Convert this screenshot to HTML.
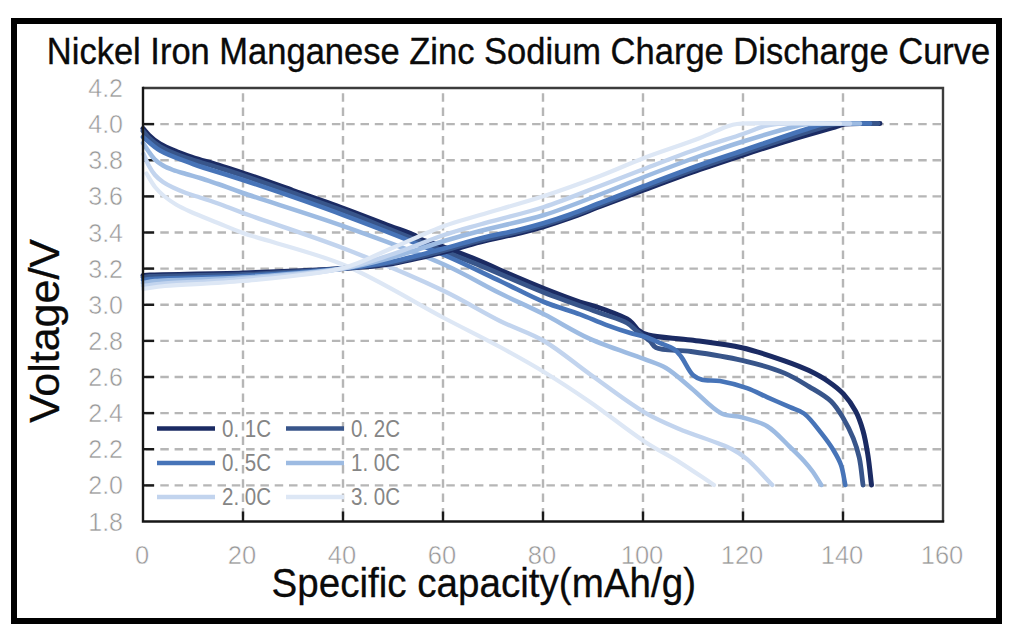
<!DOCTYPE html>
<html><head><meta charset="utf-8"><style>
html,body{margin:0;padding:0;background:#fff;width:1024px;height:632px;overflow:hidden}
svg{position:absolute;left:0;top:0;font-family:"Liberation Sans",sans-serif}
.frame{position:absolute;left:11px;top:18px;width:979px;height:594px;border:6px solid #000}
</style></head><body>
<div class="frame"></div>
<svg width="1024" height="632" viewBox="0 0 1024 632">
<g stroke="#b6b6b6" stroke-width="2.4" stroke-dasharray="8.5 5.8" stroke-dashoffset="9.1"><line x1="243" y1="88.0" x2="243" y2="521.5"/><line x1="343" y1="88.0" x2="343" y2="521.5"/><line x1="443" y1="88.0" x2="443" y2="521.5"/><line x1="543" y1="88.0" x2="543" y2="521.5"/><line x1="643" y1="88.0" x2="643" y2="521.5"/><line x1="743" y1="88.0" x2="743" y2="521.5"/><line x1="843" y1="88.0" x2="843" y2="521.5"/></g>
<g stroke="#b6b6b6" stroke-width="2.4" stroke-dasharray="8.5 5.8" stroke-dashoffset="11.3"><line x1="143" y1="124.1" x2="943" y2="124.1"/><line x1="143" y1="160.2" x2="943" y2="160.2"/><line x1="143" y1="196.4" x2="943" y2="196.4"/><line x1="143" y1="232.5" x2="943" y2="232.5"/><line x1="143" y1="268.6" x2="943" y2="268.6"/><line x1="143" y1="304.8" x2="943" y2="304.8"/><line x1="143" y1="340.9" x2="943" y2="340.9"/><line x1="143" y1="377.0" x2="943" y2="377.0"/><line x1="143" y1="413.1" x2="943" y2="413.1"/><line x1="143" y1="449.2" x2="943" y2="449.2"/><line x1="143" y1="485.4" x2="943" y2="485.4"/></g>
<g stroke="#1a1a1a" stroke-width="2.4"><line x1="143" y1="124.1" x2="154" y2="124.1"/><line x1="143" y1="160.2" x2="154" y2="160.2"/><line x1="143" y1="196.4" x2="154" y2="196.4"/><line x1="143" y1="232.5" x2="154" y2="232.5"/><line x1="143" y1="268.6" x2="154" y2="268.6"/><line x1="143" y1="304.8" x2="154" y2="304.8"/><line x1="143" y1="340.9" x2="154" y2="340.9"/><line x1="143" y1="377.0" x2="154" y2="377.0"/><line x1="143" y1="413.1" x2="154" y2="413.1"/><line x1="143" y1="449.2" x2="154" y2="449.2"/><line x1="143" y1="485.4" x2="154" y2="485.4"/><line x1="243" y1="521.5" x2="243" y2="511.5"/><line x1="343" y1="521.5" x2="343" y2="511.5"/><line x1="443" y1="521.5" x2="443" y2="511.5"/><line x1="543" y1="521.5" x2="543" y2="511.5"/><line x1="643" y1="521.5" x2="643" y2="511.5"/><line x1="743" y1="521.5" x2="743" y2="511.5"/><line x1="843" y1="521.5" x2="843" y2="511.5"/></g>
<g fill="none" stroke-linecap="round" stroke-linejoin="round"><path d="M143.0 128.5 C145.0 130.7 146.6 132.9 149.0 135.2 C152.0 138.1 155.8 141.4 160.0 144.0 C164.9 147.0 171.4 149.5 177.0 151.8 C182.4 154.0 187.0 155.5 193.0 157.5 C200.4 159.9 209.7 162.4 218.0 165.0 C226.3 167.6 233.3 169.7 243.0 173.0 C256.8 177.6 276.3 184.6 293.0 190.5 C309.9 196.4 327.5 202.4 344.0 208.5 C359.8 214.3 377.0 221.1 390.0 226.0 C399.6 229.6 409.9 232.8 415.0 235.5 C417.4 236.8 417.7 237.9 420.0 239.0 C423.9 240.9 430.1 242.1 437.0 244.5 C448.1 248.4 468.4 256.2 480.0 261.0 C488.0 264.3 492.0 266.5 500.0 270.0 C511.8 275.1 530.0 282.9 544.0 288.5 C556.6 293.5 569.7 298.5 580.0 302.0 C587.6 304.6 592.9 305.5 600.0 308.0 C608.4 311.0 621.4 315.6 627.0 319.0 C629.9 320.7 631.2 322.2 633.0 324.0 C634.8 325.8 635.8 328.3 638.0 330.0 C640.6 332.1 643.3 333.6 648.0 335.0 C657.2 337.7 676.1 338.0 691.0 340.0 C707.3 342.2 725.9 344.0 742.0 347.7 C756.9 351.1 772.3 356.5 784.5 360.8 C793.9 364.1 801.4 366.9 809.0 370.6 C816.0 374.0 822.7 377.6 828.6 381.7 C834.1 385.5 839.0 389.1 843.4 393.9 C848.0 398.9 852.3 405.0 855.6 411.1 C858.9 417.2 861.0 423.7 863.0 430.7 C865.2 438.3 866.5 446.6 867.9 455.2 C869.4 464.6 870.3 475.1 871.5 485.0" stroke="#1b2b63" stroke-width="5.0"/><path d="M143.0 131.0 C145.0 133.3 146.6 135.7 149.0 138.0 C152.0 140.9 155.8 143.9 160.0 146.5 C164.9 149.5 171.4 152.2 177.0 154.5 C182.4 156.7 187.1 158.1 193.0 160.0 C200.4 162.4 209.7 164.9 218.0 167.5 C226.3 170.1 233.3 172.2 243.0 175.5 C256.8 180.1 276.3 187.1 293.0 193.0 C309.9 198.9 327.5 204.8 344.0 211.0 C359.8 217.0 374.6 223.3 390.0 229.5 C405.6 235.8 421.7 242.4 437.0 248.5 C451.6 254.4 464.3 259.1 480.0 265.5 C499.3 273.4 523.3 284.3 544.0 292.5 C563.2 300.1 584.7 307.4 600.0 313.0 C610.6 316.9 620.2 319.1 627.0 323.0 C631.8 325.7 634.2 329.0 638.0 332.0 C641.9 335.0 646.8 338.1 650.0 341.0 C652.5 343.3 652.7 346.0 656.0 347.7 C662.5 351.1 678.3 349.7 691.0 351.5 C706.4 353.7 725.9 356.6 742.0 360.4 C756.9 363.9 772.5 368.1 784.5 373.1 C794.0 377.1 801.2 381.8 809.0 386.6 C816.6 391.2 825.1 395.6 831.0 401.3 C836.3 406.4 839.7 412.3 843.4 418.4 C847.1 424.6 850.5 431.4 853.2 438.1 C855.8 444.5 857.7 450.6 859.3 457.7 C861.1 466.0 861.8 475.9 863.0 485.0" stroke="#38558a" stroke-width="4.8"/><path d="M143.0 137.0 C148.7 141.5 153.1 146.4 160.0 150.5 C168.9 155.7 180.8 159.5 193.0 164.0 C207.8 169.4 223.5 173.5 243.0 180.0 C270.9 189.3 310.5 202.8 344.0 215.3 C377.5 227.8 415.6 242.8 444.0 255.0 C465.5 264.3 482.5 272.8 500.0 281.0 C515.6 288.3 529.9 296.2 544.0 302.0 C556.5 307.1 569.0 310.3 580.0 314.4 C589.4 317.9 597.3 321.6 606.0 324.8 C614.6 328.0 624.6 331.3 632.0 333.5 C637.3 335.1 641.6 335.5 646.0 337.0 C650.2 338.4 653.7 340.3 658.0 342.2 C663.0 344.4 670.0 346.4 674.0 349.2 C677.1 351.3 678.5 353.4 681.0 356.5 C684.7 361.2 688.9 371.5 693.2 375.3 C696.0 377.8 698.4 378.7 702.0 379.7 C706.8 381.0 713.5 379.9 720.0 381.0 C728.1 382.4 738.8 385.3 747.0 388.2 C754.3 390.8 760.1 394.0 767.0 397.1 C774.4 400.4 783.3 404.2 790.0 407.2 C795.2 409.5 799.4 410.1 804.0 413.5 C810.0 417.9 816.2 426.7 821.3 433.2 C825.9 439.0 830.1 444.7 833.5 450.3 C836.5 455.3 839.1 459.6 841.0 465.0 C843.1 471.0 843.9 478.3 845.3 485.0" stroke="#4774b8" stroke-width="4.6"/><path d="M143.0 143.0 C145.0 146.0 146.9 149.2 149.0 152.0 C150.9 154.7 152.7 157.4 155.0 159.6 C157.3 161.9 160.1 163.8 163.0 165.5 C166.1 167.3 169.4 168.6 173.0 170.0 C177.0 171.5 181.6 172.7 186.0 174.0 C190.6 175.4 195.1 176.5 200.0 178.0 C205.6 179.7 211.5 181.8 218.0 184.0 C225.7 186.7 231.8 189.2 243.0 193.0 C265.3 200.7 310.6 214.4 344.0 226.3 C377.6 238.2 415.8 251.9 444.0 264.5 C465.7 274.2 482.4 284.6 500.0 293.3 C515.5 301.0 529.3 306.8 544.0 314.3 C559.3 322.0 573.8 331.6 590.0 338.9 C607.1 346.6 630.4 353.6 644.4 359.1 C653.3 362.6 658.8 363.8 666.0 368.0 C674.5 373.0 682.5 381.0 691.3 388.2 C701.0 396.1 711.9 408.9 721.6 413.5 C728.6 416.8 734.8 415.4 741.9 417.3 C749.9 419.5 759.4 421.5 767.2 426.2 C775.5 431.2 783.4 440.7 790.0 447.0 C795.3 452.1 799.9 456.5 804.0 461.0 C807.4 464.8 810.2 468.1 813.0 472.0 C815.9 476.1 818.5 480.7 821.3 485.0" stroke="#9dbbe2" stroke-width="4.5"/><path d="M143.5 154.0 C145.3 158.0 147.0 162.4 149.0 166.0 C150.8 169.3 152.7 172.3 155.0 175.0 C157.3 177.7 160.1 179.9 163.0 182.0 C166.0 184.1 169.4 185.8 173.0 187.5 C177.0 189.4 181.5 191.3 186.0 193.0 C190.5 194.7 195.0 195.9 200.0 197.5 C205.6 199.3 211.5 201.2 218.0 203.5 C225.7 206.2 231.8 208.9 243.0 213.0 C265.3 221.2 310.6 235.6 344.0 248.5 C377.6 261.5 415.7 277.5 444.0 291.0 C465.6 301.4 482.3 312.3 500.0 321.0 C515.4 328.6 529.6 332.6 544.0 341.0 C559.6 350.1 574.0 362.9 590.0 374.3 C607.3 386.6 628.0 402.7 644.4 412.3 C656.8 419.5 665.8 423.2 678.6 428.7 C694.3 435.4 719.7 442.8 731.8 449.0 C738.7 452.5 741.6 454.6 747.0 459.1 C754.7 465.5 763.9 476.4 772.3 485.0" stroke="#c2d4ee" stroke-width="4.4"/><path d="M146.5 173.5 C149.3 178.0 151.9 183.1 155.0 187.0 C157.8 190.5 160.7 193.2 164.0 196.0 C167.6 199.0 171.7 201.9 176.0 204.5 C180.4 207.1 184.5 209.0 190.0 211.5 C197.7 215.0 208.9 219.3 218.0 223.0 C226.6 226.5 231.8 229.0 243.0 233.0 C265.3 241.0 311.0 251.2 344.0 265.0 C378.1 279.3 415.4 303.0 444.0 318.0 C465.3 329.2 482.5 337.5 500.0 347.0 C515.6 355.5 529.3 363.0 544.0 372.0 C559.3 381.3 574.2 391.1 590.0 402.0 C607.5 414.0 628.1 430.7 644.4 441.4 C656.9 449.6 667.2 454.5 678.6 461.6 C690.4 469.0 702.2 477.2 714.0 485.0" stroke="#dde7f5" stroke-width="4.2"/><path d="M143.0 275.5 C145.3 275.3 146.3 275.2 150.0 275.0 C163.3 274.4 211.4 274.0 243.0 273.0 C275.7 271.9 315.9 270.4 343.0 268.5 C361.6 267.2 373.9 266.6 390.0 264.0 C407.5 261.2 427.9 256.0 444.0 252.0 C457.3 248.7 467.6 245.1 480.0 242.0 C492.9 238.7 508.4 235.9 520.0 233.0 C529.0 230.8 535.9 228.9 544.0 226.5 C552.5 224.0 561.1 221.2 570.0 218.0 C579.7 214.6 589.0 210.7 600.0 206.5 C613.3 201.5 628.4 195.8 644.0 190.0 C661.5 183.5 682.5 175.6 700.0 169.5 C715.2 164.1 728.3 159.8 743.0 155.0 C758.3 150.0 774.5 144.7 790.0 140.0 C805.1 135.4 825.4 129.8 835.0 127.0 C839.5 125.7 840.6 124.7 845.0 124.0 C853.1 122.8 868.3 123.7 880.0 123.5" stroke="#1b2b63" stroke-width="5.0"/><path d="M143.0 277.5 C145.3 277.2 146.3 276.8 150.0 276.5 C163.3 275.4 211.5 275.8 243.0 274.5 C275.7 273.2 315.9 270.9 343.0 268.5 C361.6 266.9 373.9 265.8 390.0 263.0 C407.5 260.0 427.9 254.6 444.0 250.5 C457.3 247.1 467.6 243.6 480.0 240.5 C492.9 237.2 508.4 234.4 520.0 231.5 C529.0 229.3 535.9 227.4 544.0 225.0 C552.5 222.5 561.1 219.7 570.0 216.5 C579.7 213.1 589.0 209.2 600.0 205.0 C613.3 199.9 628.4 193.9 644.0 188.0 C661.5 181.4 682.5 173.6 700.0 167.5 C715.2 162.1 728.3 157.9 743.0 153.0 C758.3 147.9 775.4 142.2 790.0 137.5 C802.8 133.4 817.7 128.8 826.0 126.5 C830.3 125.3 831.5 124.6 836.0 124.0 C845.1 122.8 864.0 123.7 878.0 123.5" stroke="#38558a" stroke-width="4.8"/><path d="M143.0 280.0 C145.3 279.7 146.3 279.3 150.0 279.0 C163.3 277.8 211.5 277.7 243.0 276.0 C275.7 274.2 315.9 271.4 343.0 268.5 C361.6 266.5 373.9 265.1 390.0 262.0 C407.5 258.6 427.8 252.8 444.0 248.5 C457.2 245.0 467.6 241.6 480.0 238.5 C492.9 235.2 508.4 232.4 520.0 229.5 C529.0 227.3 535.9 225.4 544.0 223.0 C552.5 220.5 561.1 217.7 570.0 214.5 C579.7 211.1 589.0 207.2 600.0 203.0 C613.3 197.9 628.4 191.9 644.0 186.0 C661.5 179.3 682.5 171.2 700.0 165.0 C715.2 159.6 728.4 155.5 743.0 150.5 C758.3 145.3 776.8 138.9 790.0 134.5 C799.6 131.3 808.5 128.3 815.0 126.5 C819.1 125.3 820.4 124.6 825.0 124.0 C834.6 122.8 855.0 123.7 870.0 123.5" stroke="#4774b8" stroke-width="4.6"/><path d="M143.0 283.0 C147.0 282.3 149.1 281.6 155.0 281.0 C170.8 279.4 212.8 279.5 243.0 277.5 C275.3 275.4 316.0 272.7 343.0 268.5 C361.7 265.6 373.9 262.3 390.0 258.0 C407.5 253.3 427.8 245.8 444.0 241.0 C457.2 237.1 466.3 234.6 480.0 231.0 C498.3 226.2 523.5 221.3 544.0 215.0 C563.5 209.0 582.5 201.2 600.0 194.5 C615.6 188.5 628.4 183.0 644.0 177.0 C661.5 170.2 682.5 162.2 700.0 156.0 C715.2 150.6 727.8 146.2 743.0 141.5 C759.9 136.2 785.8 128.6 797.0 126.0 C802.0 124.8 802.9 124.5 808.0 124.0 C818.9 123.0 842.7 123.7 860.0 123.5" stroke="#9dbbe2" stroke-width="4.5"/><path d="M143.0 286.0 C148.7 285.3 152.2 284.7 160.0 284.0 C177.2 282.5 214.1 281.4 243.0 279.0 C274.8 276.4 316.1 273.7 343.0 268.5 C361.8 264.8 373.9 260.3 390.0 255.0 C407.5 249.3 427.7 240.4 444.0 235.0 C457.1 230.7 466.3 228.4 480.0 224.5 C498.3 219.3 523.5 213.6 544.0 207.0 C563.4 200.7 582.5 192.7 600.0 186.0 C615.6 180.1 628.4 174.9 644.0 169.0 C661.5 162.3 682.5 154.1 700.0 148.0 C715.2 142.7 731.1 138.1 743.0 134.0 C751.6 131.0 758.9 127.7 765.0 126.0 C769.2 124.9 770.7 124.5 776.0 124.0 C789.7 122.7 825.3 123.7 850.0 123.5" stroke="#c2d4ee" stroke-width="4.4"/><path d="M143.0 289.0 C150.3 288.0 155.4 287.0 165.0 286.0 C183.0 284.2 215.4 283.7 243.0 281.0 C274.3 278.0 316.2 275.0 343.0 268.0 C362.0 263.0 373.8 255.7 390.0 249.0 C407.4 241.8 427.7 232.0 444.0 226.0 C457.1 221.2 466.3 219.1 480.0 215.0 C498.3 209.5 523.5 202.7 544.0 196.0 C563.4 189.7 582.5 182.7 600.0 176.0 C615.6 170.0 628.4 164.0 644.0 158.0 C661.5 151.3 684.8 144.0 700.0 138.0 C710.7 133.8 720.1 128.8 727.0 126.5 C731.1 125.1 731.9 124.6 737.0 124.0 C753.3 122.0 805.7 123.7 840.0 123.5" stroke="#dde7f5" stroke-width="4.2"/></g>
<path d="M143 88.0 H943 V521.5" fill="none" stroke="#3c3c3c" stroke-width="2.4"/>
<path d="M143 88.0 V521.5 H943" fill="none" stroke="#161616" stroke-width="2.4" stroke-linecap="square"/>
<g fill="#858585" font-size="24"><line x1="157" y1="428.5" x2="215" y2="428.5" stroke="#1b2b63" stroke-width="4.5"/><text x="222" y="436.5" textLength="49" lengthAdjust="spacingAndGlyphs">0. 1C</text><line x1="286" y1="428.5" x2="344" y2="428.5" stroke="#38558a" stroke-width="4.5"/><text x="351" y="436.5" textLength="49" lengthAdjust="spacingAndGlyphs">0. 2C</text><line x1="157" y1="463.0" x2="215" y2="463.0" stroke="#4774b8" stroke-width="4.5"/><text x="222" y="471.0" textLength="49" lengthAdjust="spacingAndGlyphs">0. 5C</text><line x1="286" y1="463.0" x2="344" y2="463.0" stroke="#9dbbe2" stroke-width="4.5"/><text x="351" y="471.0" textLength="49" lengthAdjust="spacingAndGlyphs">1. 0C</text><line x1="157" y1="497.0" x2="215" y2="497.0" stroke="#c2d4ee" stroke-width="4.5"/><text x="222" y="505.0" textLength="49" lengthAdjust="spacingAndGlyphs">2. 0C</text><line x1="286" y1="497.0" x2="344" y2="497.0" stroke="#dde7f5" stroke-width="4.5"/><text x="351" y="505.0" textLength="49" lengthAdjust="spacingAndGlyphs">3. 0C</text></g>
<g fill="#989898" font-size="25" stroke="#fff" stroke-width="0.5"><text x="123" y="97.0" text-anchor="end">4.2</text><text x="123" y="133.1" text-anchor="end">4.0</text><text x="123" y="169.2" text-anchor="end">3.8</text><text x="123" y="205.4" text-anchor="end">3.6</text><text x="123" y="241.5" text-anchor="end">3.4</text><text x="123" y="277.6" text-anchor="end">3.2</text><text x="123" y="313.8" text-anchor="end">3.0</text><text x="123" y="349.9" text-anchor="end">2.8</text><text x="123" y="386.0" text-anchor="end">2.6</text><text x="123" y="422.1" text-anchor="end">2.4</text><text x="123" y="458.2" text-anchor="end">2.2</text><text x="123" y="494.4" text-anchor="end">2.0</text><text x="123" y="530.5" text-anchor="end">1.8</text></g>
<g fill="#989898" font-size="25.5" stroke="#fff" stroke-width="0.5"><text x="142" y="563.5" text-anchor="middle">0</text><text x="242" y="563.5" text-anchor="middle">20</text><text x="342" y="563.5" text-anchor="middle">40</text><text x="442" y="563.5" text-anchor="middle">60</text><text x="542" y="563.5" text-anchor="middle">80</text><text x="642" y="563.5" text-anchor="middle">100</text><text x="742" y="563.5" text-anchor="middle">120</text><text x="842" y="563.5" text-anchor="middle">140</text><text x="942" y="563.5" text-anchor="middle">160</text></g>
<text x="46.8" y="64" font-size="36" textLength="943.5" lengthAdjust="spacingAndGlyphs" fill="#0a0a0a" stroke="#0a0a0a" stroke-width="0.35">Nickel Iron Manganese Zinc Sodium Charge Discharge Curve</text>
<text x="271.5" y="597" font-size="41" textLength="424.5" lengthAdjust="spacingAndGlyphs" fill="#0a0a0a" stroke="#0a0a0a" stroke-width="0.3">Specific capacity(mAh/g)</text>
<text transform="translate(59 423) rotate(-90)" x="0" y="0" font-size="42" textLength="184" lengthAdjust="spacingAndGlyphs" fill="#0a0a0a" stroke="#0a0a0a" stroke-width="0.3">Voltage/V</text>
</svg>
</body></html>
